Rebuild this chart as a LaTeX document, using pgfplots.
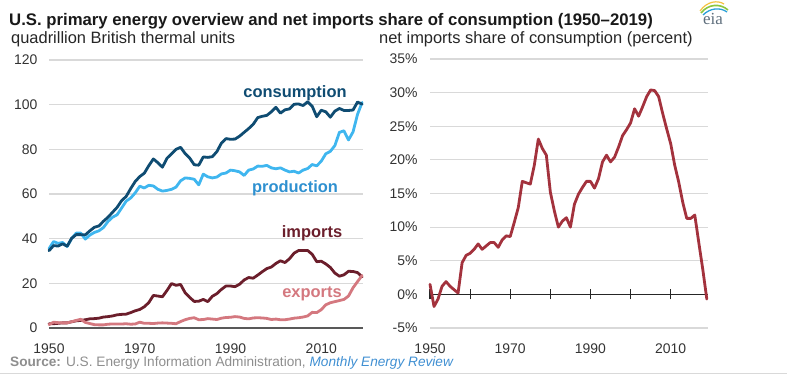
\documentclass[border=0pt]{standalone}
\usepackage{pgfplots}
\pgfplotsset{compat=1.18}
\usepackage{fontspec}
\setmainfont{Liberation Sans}
\newfontfamily\seriffont{Liberation Serif}
\definecolor{consC}{HTML}{0F4C72}
\definecolor{prodC}{HTML}{3FB6EF}
\definecolor{prodT}{HTML}{2E90D0}
\definecolor{impC}{HTML}{6B1E2B}
\definecolor{expC}{HTML}{D4787F}
\definecolor{netC}{HTML}{A3323D}
\definecolor{gridC}{HTML}{D9D9D9}
\definecolor{tickC}{HTML}{333333}
\definecolor{srcC}{HTML}{8E8E8E}
\definecolor{linkC}{HTML}{3F8FD2}
\definecolor{logoT}{HTML}{5E6E7C}
\definecolor{logoG}{HTML}{8CC63F}
\definecolor{logoB}{HTML}{2A9FD8}
\definecolor{logoY}{HTML}{F5C342}

\pgfplotstableread{
year cons prod imp exp
1950 34.6 35.5 1.9 1.5
1951 36.9 38.7 1.9 2.6
1952 36.7 37.9 2.1 2.4
1953 37.7 38.3 2.3 2.3
1954 36.6 36.5 2.3 2.3
1955 40.2 40.1 2.8 2.8
1956 41.8 42.5 3.2 3.4
1957 41.8 42.5 3.4 3.9
1958 41.7 39.8 3.7 2.5
1959 43.5 41.6 4.1 2.0
1960 45.1 42.8 4.2 1.5
1961 45.7 43.5 4.4 1.4
1962 47.8 45.0 4.9 1.4
1963 49.6 47.7 5.1 1.7
1964 51.8 49.6 5.4 1.8
1965 54.0 50.7 5.9 1.8
1966 57.0 53.7 6.1 1.8
1967 58.9 56.8 6.2 1.9
1968 62.4 58.2 6.9 1.7
1969 65.6 60.5 7.7 1.8
1970 67.8 63.5 8.3 2.6
1971 69.3 62.7 9.5 2.1
1972 72.7 63.9 11.4 2.1
1973 75.7 63.6 14.6 2.0
1974 74.0 62.1 14.3 2.2
1975 72.0 61.3 14.0 2.3
1976 76.0 61.6 16.8 2.2
1977 78.0 62.1 19.9 2.1
1978 80.0 63.1 19.1 1.9
1979 80.9 65.9 19.5 2.9
1980 78.1 67.2 15.8 3.7
1981 76.1 67.0 13.7 4.3
1982 73.1 66.6 11.9 4.6
1983 72.9 64.1 12.0 3.7
1984 76.6 68.9 12.8 3.8
1985 76.4 67.7 11.8 4.2
1986 76.7 67.2 14.2 4.0
1987 79.0 67.6 15.4 3.8
1988 82.8 69.0 17.3 4.4
1989 84.8 69.4 18.8 4.7
1990 84.5 70.7 18.8 4.8
1991 84.6 70.4 18.5 5.1
1992 85.9 69.9 19.6 4.9
1993 87.6 68.3 21.5 4.3
1994 89.3 70.7 22.6 4.1
1995 91.2 71.2 22.3 4.5
1996 94.2 72.5 23.7 4.6
1997 94.8 72.4 25.2 4.5
1998 95.2 72.8 26.6 4.3
1999 96.8 71.7 27.3 3.8
2000 98.8 71.3 28.9 4.0
2001 96.2 71.7 30.1 3.7
2002 97.7 70.7 29.3 3.7
2003 98.1 69.9 31.0 4.0
2004 100.2 70.2 33.5 4.4
2005 100.3 69.4 34.7 4.6
2006 99.6 70.7 34.7 4.9
2007 101.3 71.4 34.7 5.4
2008 99.3 73.2 33.0 7.0
2009 94.6 72.6 29.7 6.9
2010 97.5 74.7 29.9 8.2
2011 96.8 78.0 28.7 10.4
2012 94.4 79.1 27.1 11.3
2013 97.1 81.7 24.6 11.8
2014 98.3 87.6 23.2 12.3
2015 97.4 88.3 23.8 12.8
2016 97.4 84.2 25.4 14.3
2017 97.6 87.8 25.3 18.0
2018 101.2 95.7 24.8 20.8
2019 100.2 101.0 22.9 23.5
}\energy

\pgfplotstableread{
year share
1950 1.5
1951 -1.8
1952 -0.7
1953 1.2
1954 1.9
1955 1.2
1956 0.7
1957 0.2
1958 4.7
1959 5.8
1960 6.1
1961 6.7
1962 7.5
1963 6.7
1964 7.2
1965 7.7
1966 7.7
1967 7.0
1968 8.1
1969 8.7
1970 8.6
1971 10.7
1972 12.9
1973 16.8
1974 16.6
1975 16.4
1976 19.2
1977 23.1
1978 21.7
1979 20.7
1980 15.2
1981 12.4
1982 10.0
1983 10.9
1984 11.4
1985 10.0
1986 13.4
1987 14.9
1988 15.9
1989 16.8
1990 16.8
1991 15.8
1992 17.2
1993 19.7
1994 20.7
1995 19.7
1996 20.4
1997 21.9
1998 23.6
1999 24.5
2000 25.5
2001 27.6
2002 26.5
2003 27.9
2004 29.4
2005 30.4
2006 30.3
2007 29.4
2008 26.9
2009 24.6
2010 22.4
2011 19.2
2012 16.7
2013 13.7
2014 11.3
2015 11.3
2016 11.8
2017 7.7
2018 3.7
2019 -0.7
}\netshare

\pgfplotsset{
  panel/.style={
    scale only axis,
    anchor=south west,
    axis line style={draw=none},
    major tick length=0pt,
    ymajorgrids,
    grid style={gridC, line width=1.1bp},
    xtick={1950,1970,1990,2010},
    tick label style={tickC, font=\fontsize{14}{16}\selectfont},
    /pgf/number format/assume math mode=true,
    /pgf/number format/1000 sep={},
    clip=false,
    every axis plot/.append style={line width=2.8bp, line join=round, line cap=round},
  }
}

\begin{document}
\begin{tikzpicture}[x=1bp,y=1bp]
\path[use as bounding box] (0,0) rectangle (787,376);

% titles
\node[anchor=base west, inner sep=0pt, font=\bfseries\fontsize{16.8}{19}\selectfont, text={black!90}] at (9,351) {U.S. primary energy overview and net imports share of consumption (1950–2019)};
\node[anchor=base west, inner sep=0pt, font=\fontsize{16.5}{19}\selectfont, text={black!85}] at (11,333) {quadrillion British thermal units};
\node[anchor=base west, inner sep=0pt, font=\fontsize{16.5}{19}\selectfont, text={black!85}] at (379,333) {net imports share of consumption (percent)};

% left panel
\begin{axis}[panel, at={(49bp,48bp)}, width=314bp, height=268bp,
  xmin=1950, xmax=2019.2, ymin=0, ymax=120,
  ytick={20,40,60,80,100,120}, extra y ticks={0}, extra y tick style={grid=none},
  xticklabel style={yshift=-12bp}, yticklabel style={xshift=-8bp}]
\draw[color=black!65, line width=1.3bp] (axis cs:1950,0) -- (axis cs:2019.2,0);
\addplot[prodC] table[x=year,y=prod] {\energy};
\addplot[consC] table[x=year,y=cons] {\energy};
\addplot[impC] table[x=year,y=imp] {\energy};
\addplot[expC] table[x=year,y=exp] {\energy};
\end{axis}

\node[anchor=base, inner sep=0pt, font=\bfseries\fontsize{16.5}{18}\selectfont, text=consC] at (295,279) {consumption};
\node[anchor=base, inner sep=0pt, font=\bfseries\fontsize{16.5}{18}\selectfont, text=prodT] at (295,184) {production};
\node[anchor=base, inner sep=0pt, font=\bfseries\fontsize{16.5}{18}\selectfont, text=impC] at (312,139) {imports};
\node[anchor=base, inner sep=0pt, font=\bfseries\fontsize{16.5}{18}\selectfont, text=expC] at (312,79) {exports};

% right panel
\begin{axis}[panel, at={(430bp,48bp)}, width=278bp, height=269bp,
  xmin=1950, xmax=2019.3, ymin=-5, ymax=35,
  ytick={-5,0,5,10,15,20,25,30,35},
  yticklabel={\pgfmathprintnumber{\tick}\%},
  xticklabel style={yshift=-12bp}, yticklabel style={xshift=-9bp}]
\draw[color=black!85, line width=1.2bp] (axis cs:1950,0) -- (axis cs:2019.3,0);
\pgfplotsinvokeforeach{1950,1960,1970,1980,1990,2000,2010}{
  \draw[color=black!85, line width=1.2bp] (axis cs:#1,0) ++(0bp,-5bp) -- ++(0bp,10bp);
}
\addplot[netC] table[x=year,y=share] {\netshare};
\end{axis}

% source
\node[anchor=base west, inner sep=0pt, font=\fontsize{13.7}{15}\selectfont, text=srcC] at (10,10) {\textbf{Source:} U.S. Energy Information Administration, \textcolor{linkC}{\itshape Monthly Energy Review}};
\draw[black!15, line width=1bp] (0,3) -- (787,3);

% eia logo
\node[anchor=base, inner sep=0pt, font=\seriffont\fontsize{17}{18}\selectfont, text=logoT] at (713,352) {eia};
\draw[line width=1.6bp, color=logoG] (701,363) .. controls (708,372) and (720,373) .. (728,366);
\draw[line width=1.3bp, color=logoB] (703,361) .. controls (710,368) and (720,369) .. (727,364);
\draw[line width=1.2bp, color=logoY] (700,365) .. controls (707,375) and (718,376) .. (724,372);
\end{tikzpicture}
\end{document}
